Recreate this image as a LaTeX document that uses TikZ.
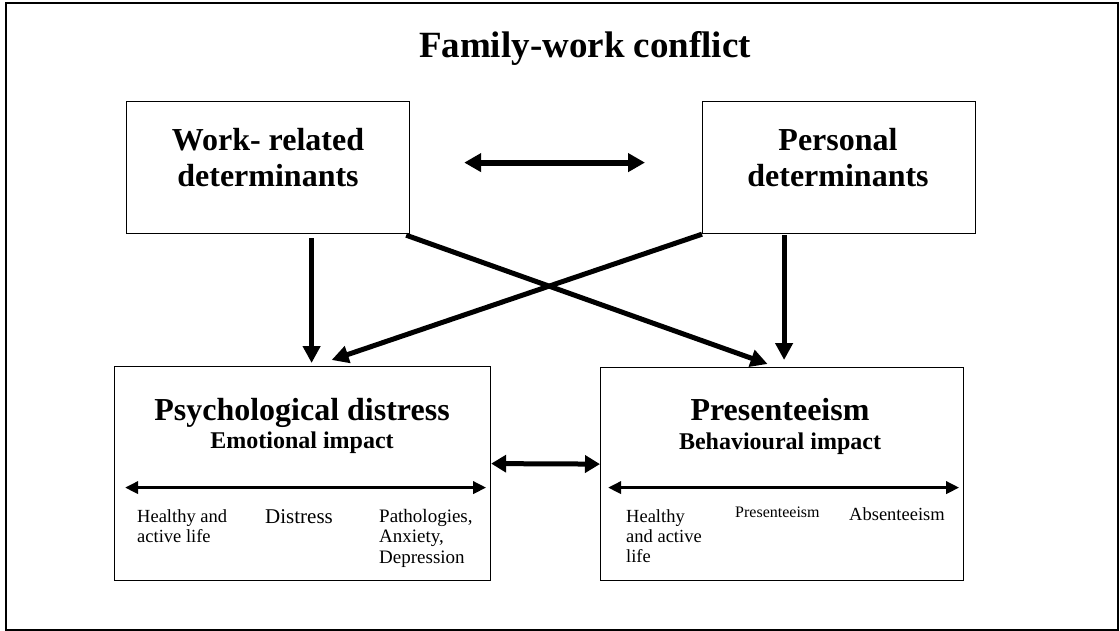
\documentclass[tikz,border=0pt]{standalone}
\usepackage{fontspec}
\setmainfont{Liberation Serif}
\usetikzlibrary{arrows.meta}
\newcommand\mysize[1]{\fontsize{#1}{#1}\selectfont}
\begin{document}
\begin{tikzpicture}[x=1pt,y=-1pt,
  box/.style={draw,line width=1.2pt,rectangle,inner sep=0pt,anchor=north west},
  ctext/.style={inner sep=0pt,anchor=base},
  ltext/.style={inner sep=0pt,anchor=base west},
  bigtitle/.style={ctext,font=\mysize{37}\bfseries},
  headtext/.style={ctext,font=\mysize{32}\bfseries},
  subtext/.style={ctext,font=\mysize{24}\bfseries},
  smalltext/.style={ltext,font=\mysize{18.5}},
  bigarrow/.style={line width=5pt,-{Triangle[length=17pt,width=17pt]}},
  dblarrow/.style={line width=6pt,{Triangle[length=17pt,width=18pt]}-{Triangle[length=17pt,width=18pt]}},
  thinarrow/.style={line width=3.5pt,{Triangle[length=13pt,width=12pt]}-{Triangle[length=13pt,width=12pt]}}
]
\useasboundingbox (0,0) rectangle (1120,631);
\draw[line width=1.5pt] (6,3) rectangle (1118,630);

% title
\node[bigtitle] (title) at (585,58) {Family-work conflict};

% boxes
\node[box,minimum width=283pt,minimum height=132pt] (wr) at (126,101) {};
\node[box,minimum width=273pt,minimum height=132pt] (pd) at (702,101) {};
\node[box,minimum width=376pt,minimum height=214pt] (psy) at (114,366) {};
\node[box,minimum width=363pt,minimum height=213pt] (pres) at (600,367) {};

% box texts
\node[headtext] (wr1) at (268,151) {Work- related};
\node[headtext] (wr2) at (268,187) {determinants};
\node[headtext] (pd1) at (838,151) {Personal};
\node[headtext] (pd2) at (838,187) {determinants};
\node[headtext] (psy1) at (302,420) {Psychological distress};
\node[subtext] (psy2) at (302,448) {Emotional impact};
\node[headtext] (pres1) at (780,420) {Presenteeism};
\node[subtext] (pres2) at (780,449) {Behavioural impact};

% scale labels, psychological distress
\node[smalltext] (ha1) at (137,522) {Healthy and};
\node[smalltext] (ha2) at (137,542) {active life};
\node[ltext,font=\mysize{21}] (dis) at (265,523) {Distress};
\node[ltext,font=\mysize{19}] (pa1) at (379,522) {Pathologies,};
\node[ltext,font=\mysize{19}] (pa2) at (379,542) {Anxiety,};
\node[ltext,font=\mysize{19}] (pa3) at (379,563) {Depression};

% scale labels, presenteeism
\node[smalltext] (hb1) at (626,522) {Healthy};
\node[smalltext] (hb2) at (626,542) {and active};
\node[smalltext] (hb3) at (626,562) {life};
\node[ltext,font=\mysize{16}] (pre) at (735,517) {Presenteeism};
\node[smalltext] (abs) at (849,520) {Absenteeism};

% connectors
\draw[dblarrow] ([xshift=54pt,yshift=5pt]wr.east) -- ([xshift=-57pt,yshift=5pt]pd.west);
\draw[bigarrow] ([xshift=43.5pt,yshift=-4pt]wr.south) -- ([xshift=9pt,yshift=3pt]psy.north);
\draw[bigarrow] ([xshift=-55pt,yshift=-1pt]pd.south) -- ([xshift=2pt,yshift=7pt]pres.north);
\draw[bigarrow] ([xshift=-4pt,yshift=-1pt]wr.south east) -- ([xshift=-14.5pt,yshift=3pt]pres.north);
\draw[bigarrow] (pd.south west) -- ([xshift=29pt,yshift=6pt]psy.north);
\draw[line width=5pt,{Triangle[length=15pt,width=17pt]}-{Triangle[length=15pt,width=17pt]}] ([yshift=10pt]psy.east) -- ([yshift=10pt]pres.west);

% scales inside boxes
\draw[thinarrow] ([xshift=11pt,yshift=-14pt]psy.west) -- ([xshift=-5pt,yshift=-14pt]psy.east);
\draw[thinarrow] ([xshift=8pt,yshift=-13.5pt]pres.west) -- ([xshift=-5pt,yshift=-13.5pt]pres.east);
\end{tikzpicture}
\end{document}
